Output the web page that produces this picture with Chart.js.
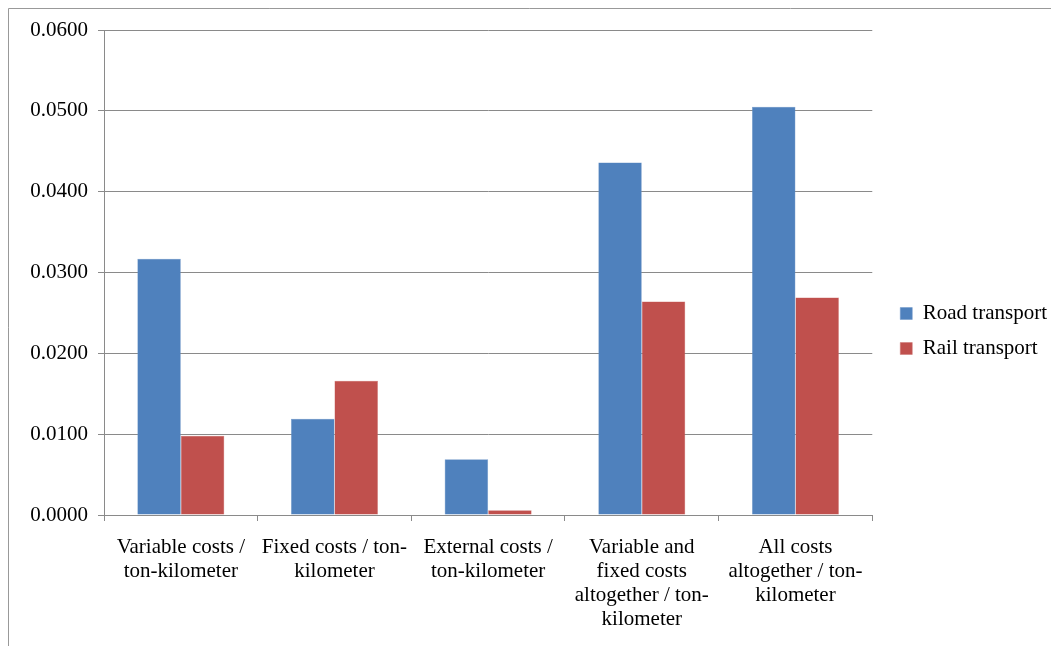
<!DOCTYPE html>
<html>
<head>
<meta charset="utf-8">
<script src="https://cdn.jsdelivr.net/npm/chart.js@4"></script>
<style>
  body { margin: 0; background: #fff; }
  #wrap { position: relative; width: 1051px; height: 646px; }
</style>
</head>
<body>
<div id="wrap"><canvas id="myChart"></canvas></div>
<script>
var ctx = document.getElementById('myChart').getContext('2d');

// categories along the x-axis
var costTypes = [
    ["Variable costs /", "ton-kilometer"],
    ["Fixed costs / ton-", "kilometer"],
    ["External costs /", "ton-kilometer"],
    ["Variable and", "fixed costs", "altogether / ton-", "kilometer"],
    ["All costs", "altogether / ton-", "kilometer"]
];

// cost per ton-kilometer
var road = [0.0317, 0.0119, 0.0069, 0.0436, 0.0505];
var rail = [0.0098, 0.0166, 0.0006, 0.0264, 0.0269];

var yMin = 0;
var yMax = 0.06;
var yStep = 0.01;

var grey = '#8a8a8a';

// thin frame round the whole chart, open to the right and bottom
var frame = {
    id: 'frame',
    beforeDraw: function (chart) {
        var c = chart.ctx;
        c.save();
        c.strokeStyle = '#999';
        c.lineWidth = 1;
        c.beginPath();
        c.moveTo(8.5, chart.height);
        c.lineTo(8.5, 8.5);
        c.lineTo(chart.width, 8.5);
        c.stroke();
        c.restore();
    }
};

// nudge the legend a little right and up
var legendShift = {
    id: 'legendShift',
    afterLayout: function (chart) {
        if (chart.legend) {
            chart.legend.left += 14;
            chart.legend.right += 14;
            chart.legend.top -= 7;
            chart.legend.bottom -= 7;
        }
    }
};

var myChart = new Chart(ctx, {
    type: 'bar',
    data: {
        labels: costTypes,
        datasets: [{
            label: "Road transport",
            data: road,
            backgroundColor: "#4F81BD",
            borderColor: "#6f97c8",
            borderWidth: 0.5
        },
        {
            label: "Rail transport",
            data: rail,
            backgroundColor: "#C0504D",
            borderColor: "#cd7472",
            borderWidth: 0.5
        }]
    },
    options: {
        responsive: true,
        maintainAspectRatio: false,
        animation: false,
        layout: { padding: { top: 30, left: 0, right: 8, bottom: 0 } },
        datasets: {
            bar: { categoryPercentage: 0.566, barPercentage: 1 }
        },
        plugins: {
            legend: {
                position: 'right',
                labels: {
                    font: { family: 'Liberation Serif', size: 21 },
                    color: '#000',
                    boxWidth: 12,
                    boxHeight: 12,
                    padding: 14
                }
            },
            tooltip: { enabled: false }
        },
        scales: {
            x: {
                grid: { drawOnChartArea: false, drawTicks: true, tickLength: 6, color: grey },
                border: { color: grey },
                ticks: {
                    font: { family: 'Liberation Serif', size: 21, lineHeight: '24px' },
                    color: '#000',
                    padding: 14,
                    maxRotation: 0
                },
                afterFit: function (scale) { scale.height = 131; }
            },
            y: {
                min: yMin,
                max: yMax,
                grid: { color: grey, tickLength: 6 },
                border: { color: grey },
                ticks: {
                    stepSize: yStep,
                    font: { family: 'Liberation Serif', size: 21 },
                    color: '#000',
                    padding: 10,
                    callback: function (v) { return v.toFixed(4); }
                },
                afterFit: function (scale) { scale.width = 104; }
            }
        }
    },
    plugins: [frame, legendShift]
});
</script>
</body>
</html>
